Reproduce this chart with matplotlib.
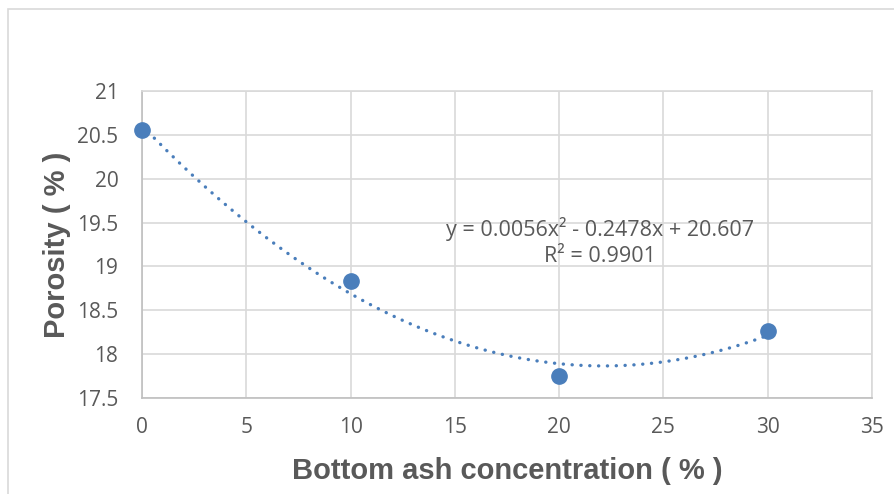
import numpy as np
import matplotlib
matplotlib.use('Agg')
import matplotlib.pyplot as plt
from matplotlib.patches import Rectangle

plt.rcParams['font.family'] = ['Open Sans', 'DejaVu Sans']

# data
conc = [0, 10, 20, 30]
porosity = [20.56, 18.83, 17.75, 18.26]
x_ticks = [0, 5, 10, 15, 20, 25, 30, 35]
y_ticks = [17.5, 18, 18.5, 19, 19.5, 20, 20.5, 21]

blue = '#4a7ebb'
grey_txt = '#595959'
grid_c = '#d9d9d9'

fig = plt.figure(figsize=(8.94, 4.94), dpi=100)
# chart border
fig.patches.append(Rectangle((8/894, -0.1), 1.0, 1 - 9/494 + 0.1, transform=fig.transFigure,
                             fill=False, edgecolor='#d9d9d9', linewidth=1.2))
ax = fig.add_axes([142/894, 1 - 398/494, 730/894, 307/494])

# polynomial trendline (order 2)
coef = np.polyfit(conc, porosity, 2)
xs = np.linspace(0, 30, 200)
ax.plot(xs, np.polyval(coef, xs), linestyle=(0, (0.05, 2.6)), color=blue, linewidth=2.4,
        dash_capstyle='round', zorder=3)
ax.plot(conc, porosity, 'o', color=blue, markersize=11, zorder=4, clip_on=False)

ax.set_xlim(0, 35)
ax.set_ylim(17.5, 21)
ax.set_xticks(x_ticks)
ax.set_yticks(y_ticks)
ax.set_xticklabels([str(t) for t in x_ticks])
ax.set_yticklabels(['17.5', '18', '18.5', '19', '19.5', '20', '20.5', '21'])
ax.tick_params(length=0, labelsize=15, labelcolor=grey_txt)
ax.tick_params(axis='x', pad=14)
ax.tick_params(axis='y', pad=17)
ax.grid(True, color=grid_c, linewidth=1.2)
ax.set_axisbelow(True)
for s in ax.spines.values():
    s.set_color(grid_c)
    s.set_linewidth(1.2)
ax.spines['left'].set_color('#bfbfbf')
ax.spines['bottom'].set_color('#bfbfbf')

ax.text(21.96, 19.28, 'y = 0.0056x² - 0.2478x + 20.607\nR² = 0.9901', ha='center', va='center',
        fontsize=15.5, color=grey_txt, linespacing=1.35)

ax.set_xlabel('Bottom ash concentration ( % )', fontsize=21, fontweight='bold', color=grey_txt,
              labelpad=13, family=['Liberation Sans', 'DejaVu Sans'])
ax.set_ylabel('Porosity ( % )', fontsize=21, fontweight='bold', color=grey_txt,
              labelpad=4, family=['Liberation Sans', 'DejaVu Sans'])

fig.savefig('out.png', dpi=100)
